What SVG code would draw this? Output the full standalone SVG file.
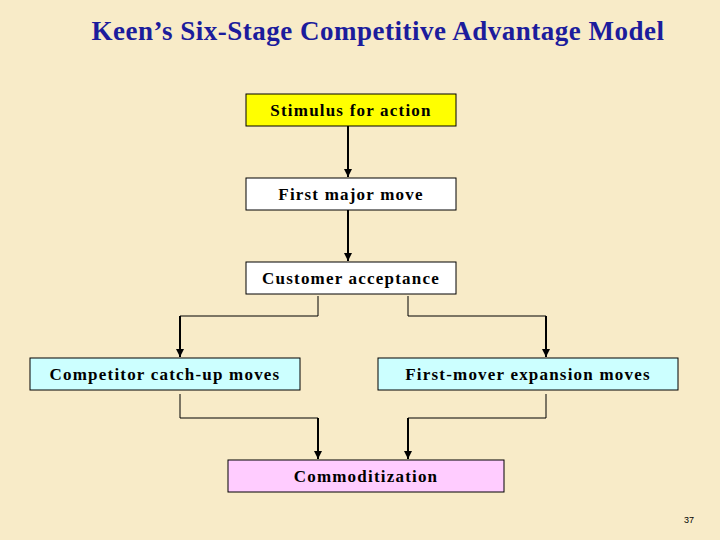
<svg xmlns="http://www.w3.org/2000/svg" width="720" height="540" viewBox="0 0 720 540">
<style>
.b{stroke:#000;stroke-width:1}
.t{font-family:"Liberation Serif",serif;font-weight:bold;font-size:17px;text-anchor:middle;letter-spacing:1.2px}
.c{fill:none;stroke:#000;stroke-width:1}
.a{fill:none;stroke:#000;stroke-width:2;marker-end:url(#m)}
</style>
<defs><marker id="m" viewBox="0 0 10 10" refX="10" refY="5" markerWidth="4" markerHeight="4" orient="auto"><path d="M0,0L10,5L0,10z"/></marker></defs>
<rect width="720" height="540" fill="#f8ebc8"/>
<text x="378" y="40" font-family="Liberation Serif,serif" font-weight="bold" font-size="27" fill="#1c1c9c" text-anchor="middle" letter-spacing="0.5">Keen’s Six-Stage Competitive Advantage Model</text>
<g id="n1"><rect class="b" x="246" y="94" width="210" height="32" fill="#ffff00"/><text class="t" x="351" y="116">Stimulus for action</text></g>
<g id="n2"><rect class="b" x="246" y="178" width="210" height="32" fill="#fff"/><text class="t" x="351" y="200">First major move</text></g>
<g id="n3"><rect class="b" x="246" y="262" width="210" height="32" fill="#fff"/><text class="t" x="351" y="284">Customer acceptance</text></g>
<g id="n4"><rect class="b" x="30" y="358" width="270" height="32" fill="#ccffff"/><text class="t" x="165" y="380">Competitor catch-up moves</text></g>
<g id="n5"><rect class="b" x="378" y="358" width="300" height="32" fill="#ccffff"/><text class="t" x="528" y="380">First-mover expansion moves</text></g>
<g id="n6"><rect class="b" x="228" y="460" width="276" height="32" fill="#ffccff"/><text class="t" x="366" y="482">Commoditization</text></g>
<g id="connectors">
<path class="a" d="M348,126V177"/>
<path class="a" d="M348,210V261"/>
<path class="c" d="M318,296V316H180"/><path class="a" d="M180,316V357"/>
<path class="c" d="M408,296V316H546"/><path class="a" d="M546,316V357"/>
<path class="c" d="M180,394V418H318"/><path class="a" d="M318,418V459"/>
<path class="c" d="M546,394V418H408"/><path class="a" d="M408,418V459"/>
</g>
<text x="694" y="523" font-family="Liberation Sans,sans-serif" font-size="9" text-anchor="end">37</text>
</svg>
